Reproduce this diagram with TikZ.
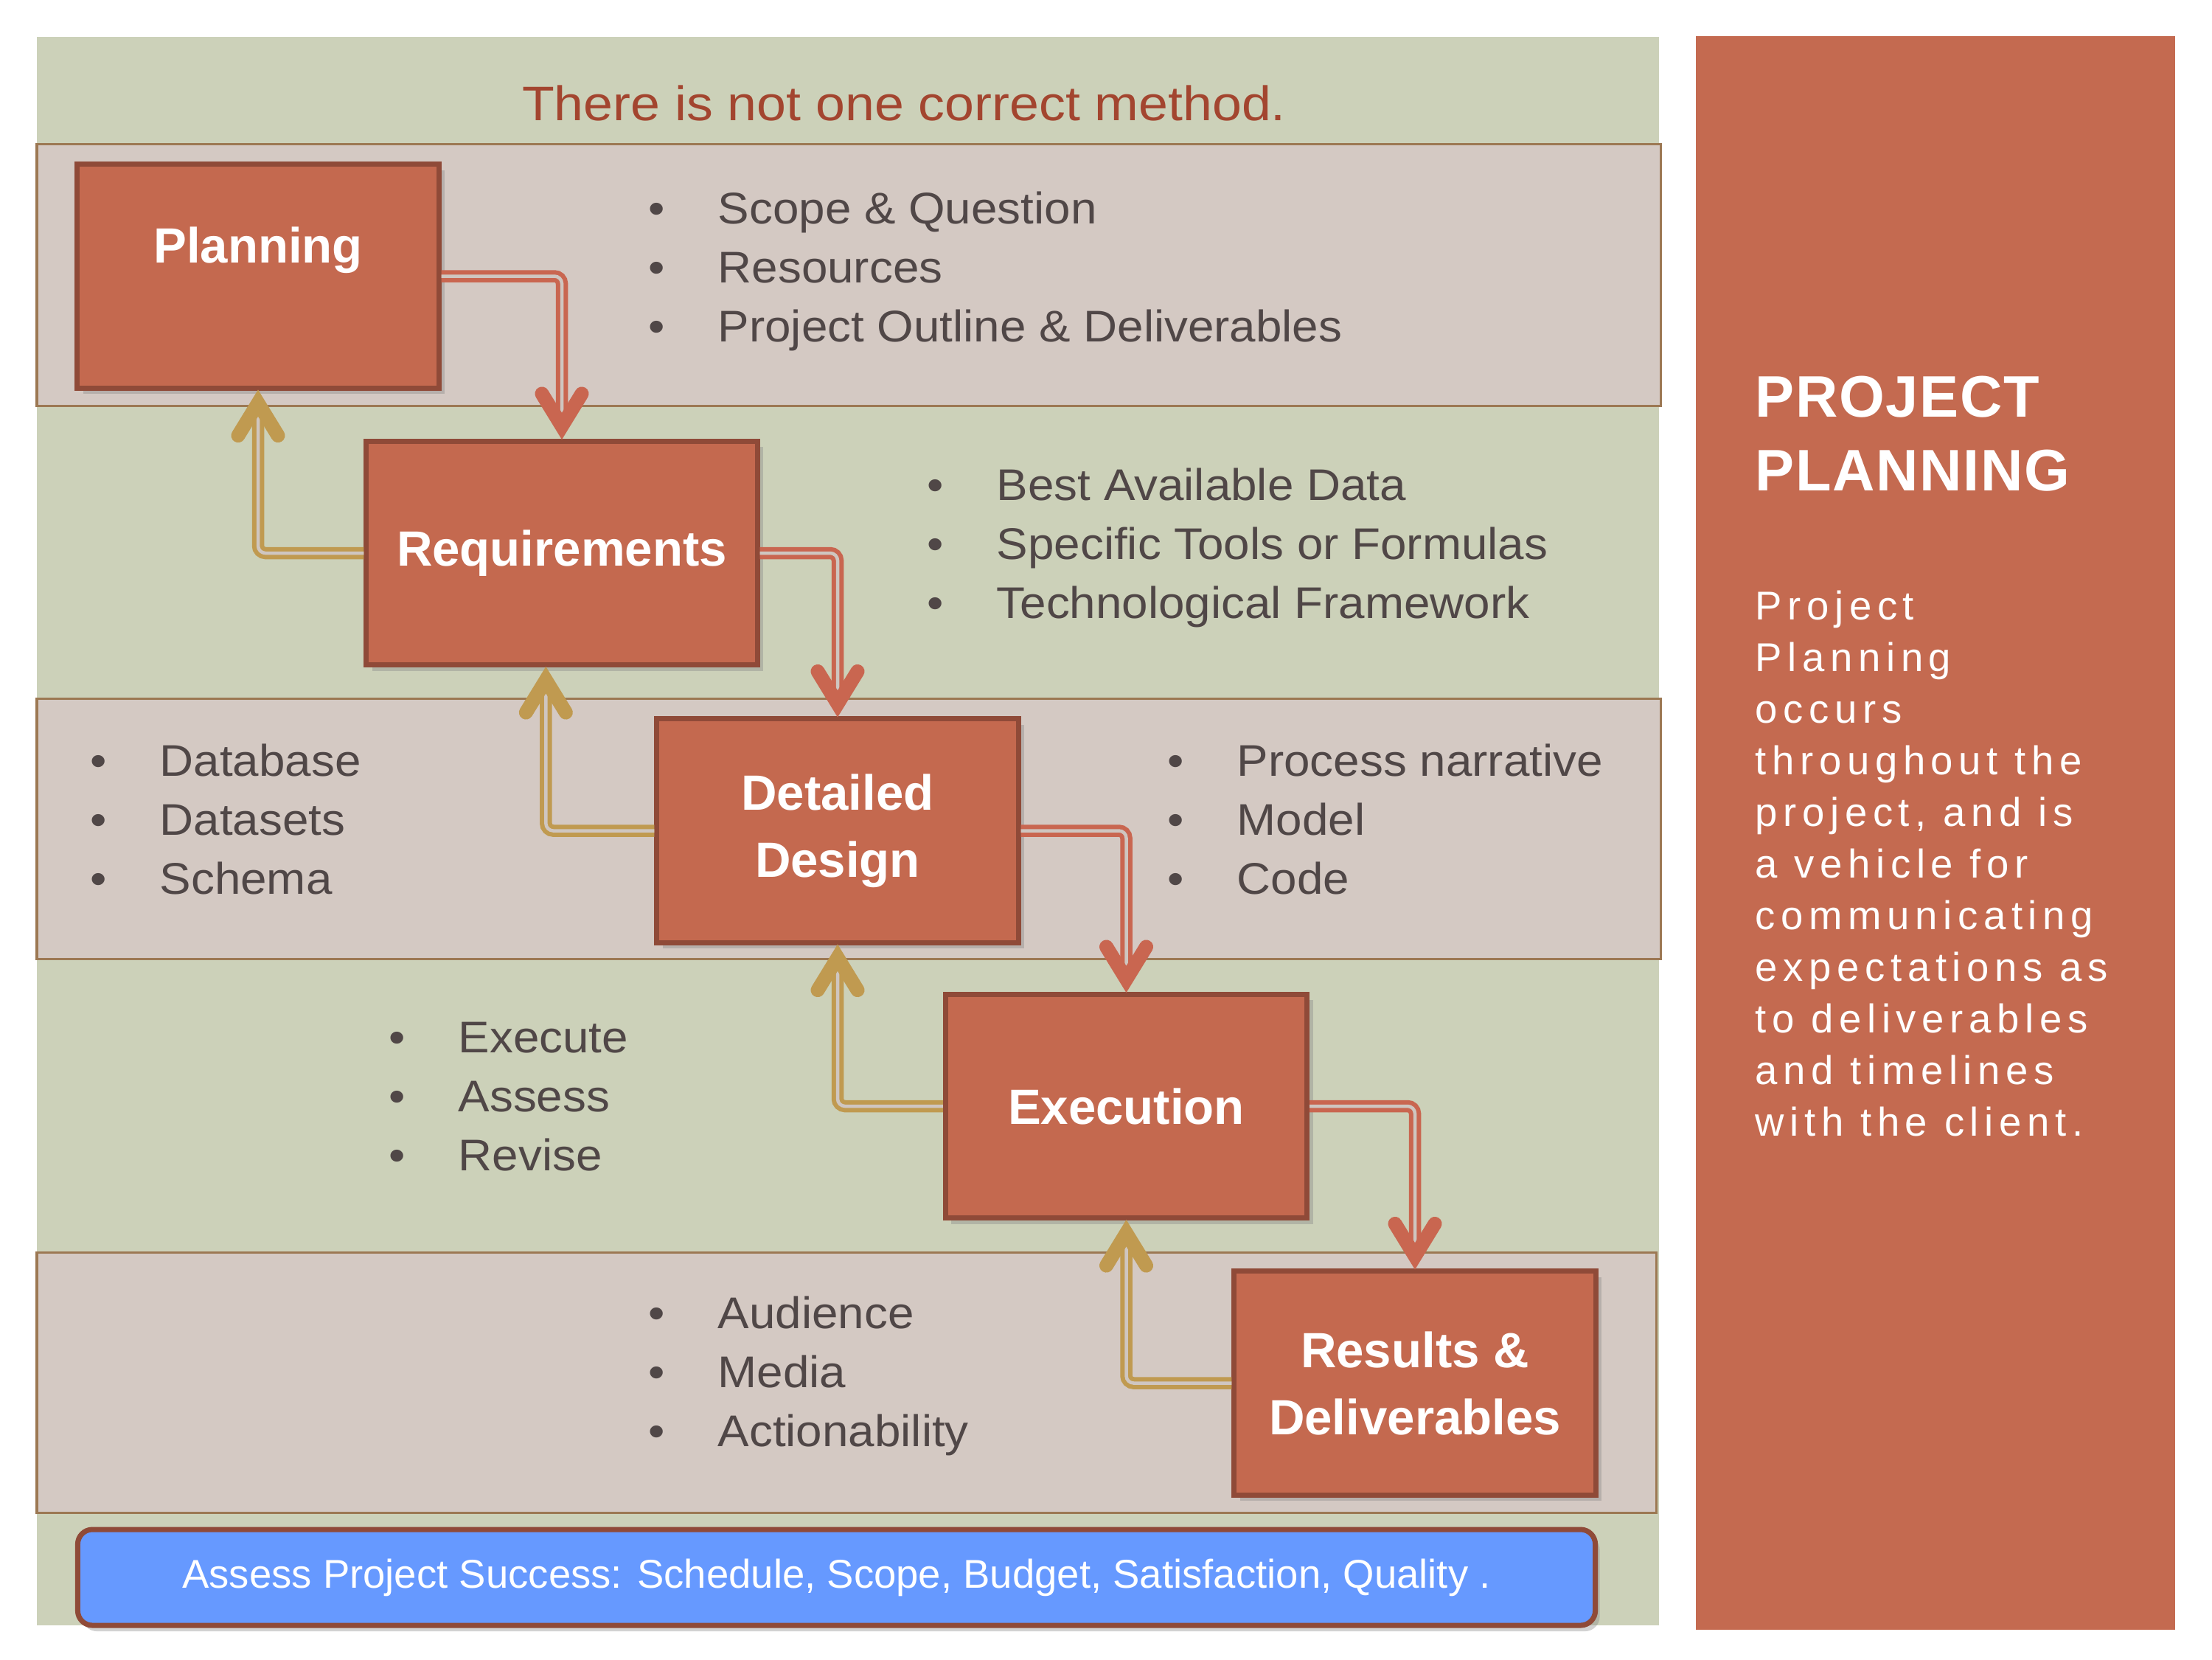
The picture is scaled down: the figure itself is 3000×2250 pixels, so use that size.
\documentclass[tikz,border=0pt]{standalone}
\usepackage{fontspec}
\setmainfont{Liberation Sans}
\newfontfamily\sidefont[LetterSpace=14]{Liberation Sans}
\newfontfamily\headfont[LetterSpace=2]{Liberation Sans}
\newfontfamily\listfont[FakeStretch=1.06]{Liberation Sans}
\newfontfamily\titlefont[FakeStretch=1.09]{Liberation Sans}
\usetikzlibrary{calc,shadows}
\definecolor{bggreen}{HTML}{CCD1B9}
\definecolor{band}{HTML}{D4C9C3}
\definecolor{bandline}{HTML}{9C7853}
\definecolor{boxfill}{HTML}{C4694F}
\definecolor{boxline}{HTML}{8F4A38}
\definecolor{txtgrey}{HTML}{504747}
\definecolor{titlered}{HTML}{A3452F}
\definecolor{goldarr}{HTML}{C09A50}
\definecolor{redarr}{HTML}{C96650}
\definecolor{bluefill}{HTML}{6699FF}
\definecolor{panel}{HTML}{C46A50}
\definecolor{gapcol}{HTML}{CFC6C0}
\newcommand\bul[1]{\makebox[9.4mm][l]{•}#1}
\tikzset{
  stage/.style={draw=boxline, line width=0.7mm, fill=boxfill, minimum height=30.3mm,
    minimum width=49mm, inner sep=0pt,
    drop shadow={shadow xshift=0.8mm, shadow yshift=-0.8mm, opacity=0.35}},
  stagetext/.style={text=white, font=\fontsize{19.1pt}{25.9pt}\selectfont\bfseries, align=center},
  bandbox/.style={fill=band, draw=bandline, line width=0.3mm},
  listtext/.style={anchor=north west, inner sep=0pt, text=txtgrey, align=left,
    font=\listfont\fontsize{17.1pt}{22.8pt}\selectfont},
  fwd/.style={draw=redarr, line width=0.6mm, double=gapcol, double distance=0.45mm,
    rounded corners=1mm, shorten >=2mm},
  back/.style={draw=goldarr, line width=0.6mm, double=gapcol, double distance=0.45mm,
    rounded corners=1mm, shorten >=2mm},
  headstroke/.style={line width=1.9mm, line cap=round, miter limit=10}
}
\newcommand\headdown[2]{\draw[headstroke, draw=#1] ($(#2)+(-27,-61)$) -- ($(#2)+(0,-17)$) -- ($(#2)+(27,-61)$);}
\newcommand\headup[2]{\draw[headstroke, draw=#1] ($(#2)+(-27,61)$) -- ($(#2)+(0,17)$) -- ($(#2)+(27,61)$);}
\begin{document}
\begin{tikzpicture}[x=0.01cm, y=-0.01cm]
\useasboundingbox (0,0) rectangle (3000,2250);
\fill[white] (0,0) rectangle (3000,2250);
% left panel
\fill[bggreen] (50,50) rectangle (2250,2204);
\draw[bandbox] (50,195) rectangle (2252,550);
\draw[bandbox] (50,947) rectangle (2252,1300);
\draw[bandbox] (50,1698) rectangle (2246,2051);
% right panel
\fill[panel] (2300,49) rectangle (2950,2210);
% title
\node[text=titlered, font=\titlefont\fontsize{18.7pt}{22pt}\selectfont] (title) at (1226,140) {There is not one correct method.};
% stages
\node[stage] (plan) at (350,374.5) {};
\node[stagetext] (plantext) at ($(plan.center)+(0,-35)$) {Planning};
\node[stage, stagetext, minimum width=53mm] (req) at (762,750) {Requirements};
\node[stage, stagetext] (dd) at (1136,1126.5) {Detailed\\Design};
\node[stage, stagetext] (exec) at (1527.5,1500) {Execution};
\node[stage, stagetext] (res) at (1919,1875.5) {Results \&\\Deliverables};
\coordinate (reqin) at ($(req.south west)+(247,0)$);
% forward arrows
\draw[fwd] (plan.east) -| (req.north);
\draw[fwd] (req.east) -| (dd.north);
\draw[fwd] (dd.east) -| (exec.north);
\draw[fwd] (exec.east) -| (res.north);
\headdown{redarr}{req.north}
\headdown{redarr}{dd.north}
\headdown{redarr}{exec.north}
\headdown{redarr}{res.north}
% backward arrows
\draw[back] (req.west) -| (plan.south);
\draw[back] (dd.west) -| (reqin);
\draw[back] (exec.west) -| (dd.south);
\draw[back] (res.west) -| (exec.south);
\headup{goldarr}{plan.south}
\headup{goldarr}{reqin}
\headup{goldarr}{dd.south}
\headup{goldarr}{exec.south}
% lists
\node[listtext] (l1) at (879,259) {\bul{Scope \& Question}\\\bul{Resources}\\\bul{Project Outline \& Deliverables}};
\node[listtext] (l2) at (1257,634) {\bul{Best Available Data}\\\bul{Specific Tools or Formulas}\\\bul{Technological Framework}};
\node[listtext] (l3) at (122,1008) {\bul{Database}\\\bul{Datasets}\\\bul{Schema}};
\node[listtext] (l4) at (1583,1008) {\bul{Process narrative}\\\bul{Model}\\\bul{Code}};
\node[listtext] (l5) at (527,1385) {\bul{Execute}\\\bul{Assess}\\\bul{Revise}};
\node[listtext] (l6) at (879,1757) {\bul{Audience}\\\bul{Media}\\\bul{Actionability}};
% bottom box
\node[draw=boxline, line width=0.7mm, fill=bluefill, rounded corners=2mm, minimum width=205.7mm,
  minimum height=13mm, inner sep=0pt, text=white, font=\fontsize{15.5pt}{18pt}\selectfont,
  drop shadow={shadow xshift=0.6mm, shadow yshift=-0.8mm, opacity=0.35}]
  (assess) at (1134.5,2139) {Assess Project Success: Schedule, Scope, Budget, Satisfaction, Quality .};
% side text
\node[anchor=north west, inner sep=0pt, text=white, align=left,
  font=\headfont\bfseries\fontsize{22.6pt}{28.45pt}\selectfont] (head) at (2380,509) {PROJECT\\PLANNING};
\node[anchor=north west, inner sep=0pt, text=white, align=left,
  font=\sidefont\fontsize{15.5pt}{19.9pt}\selectfont] (body) at (2380,800)
  {Project\\Planning\\occurs\\throughout the\\project, and is\\a vehicle for\\communicating\\expectations as\\to deliverables\\and timelines\\with the client.};
\end{tikzpicture}
\end{document}
